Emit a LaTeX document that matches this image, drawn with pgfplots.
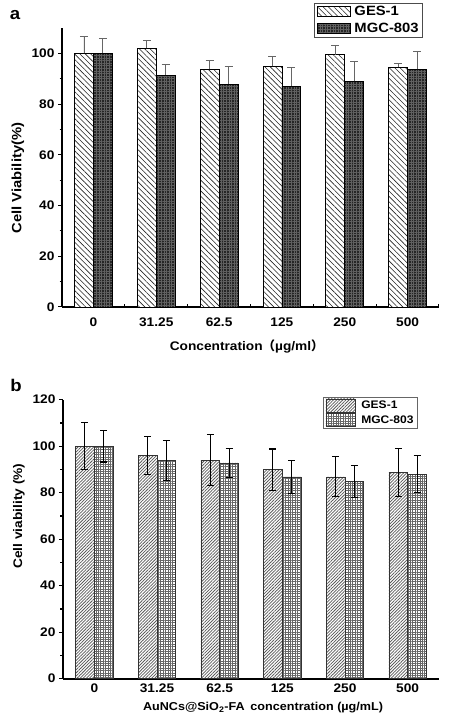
\documentclass[border=0pt]{standalone}
\usepackage{pgfplots}
\pgfplotsset{compat=1.18}
\usepackage{fontspec}
\setmainfont{Liberation Sans}[FakeStretch=1.1]
\newfontfamily\cjk{Noto Sans CJK SC}
\usetikzlibrary{patterns.meta}
\begin{document}
\begin{tikzpicture}
\useasboundingbox (0,0) rectangle (475bp,721bp);
\pgfplotsset{
  common/.style={
    scale only axis,
    axis lines=left,
    axis line style={-},
    xmin=-0.5, xmax=5.5,
    ymin=0,
    xtick={0,1,2,3,4,5},
    xticklabels={0,31.25,62.5,125,250,500},
    major x tick style={draw=none},
    minor y tick num=1,
    tick align=outside,
    major tick length=4bp,
    minor tick length=2.5bp,
    /pgf/number format/assume math mode=true,
    ybar=0pt, bar width=0.3,
    legend cell align=left,
    clip=false,
  },
}
% ---------------- panel a ----------------
\begin{axis}[common,
  at={(62bp,414bp)}, anchor=south west,
  width=377bp, height=279bp,
  ymax=110, ytick={0,20,...,100},
  axis line style={line width=1.1bp},
  tick style={line width=1bp, black},
  minor xtick={0.5,1.5,2.5,3.5,4.5,5.5},
  minor x tick style={yshift=3bp, line width=1bp},
  tick label style={font=\bfseries\fontsize{12.5}{12.5}\selectfont},
  xticklabel style={yshift=-3bp},
  xlabel={Concentration{\cjk （}µg/ml{\cjk ）}},
  xlabel style={at={(axis description cs:0.49,-0.14)}, anchor=center, font=\bfseries\fontsize{12.5}{12.5}\selectfont},
  ylabel={Cell Viability(\%)},
  ylabel style={at={(axis description cs:-0.117,0.462)}, anchor=center, font=\bfseries\fontsize{13.5}{13.5}\selectfont},
  legend style={at={(rel axis cs:0.9576,1.0896)}, anchor=north east, draw=black!70, line width=0.8bp,
    font=\bfseries\fontsize{13.5}{13.5}\selectfont, inner xsep=2bp, inner ysep=1bp, row sep=2bp},
  legend image code/.code={\draw[#1,bar shift=0pt] (0bp,-5bp) rectangle (33bp,5bp); \path (35bp,0bp);},
  error bars/error bar style={line width=0.7bp, black!60},
  error bars/error mark options={rotate=90, mark size=4bp, line width=0.7bp, black!60},
]
\addplot[draw=black, line width=0.8bp, preaction={fill=white},
  pattern={Lines[angle=-45,distance=3.8bp,line width=0.6bp]}, pattern color=black!85,
  error bars/.cd, y dir=plus, y explicit]
  table[x=x, y=y, y error=e] {
  x y e
  0 100 6.6
  1 102 3.1
  2 93.7 3.4
  3 94.9 3.8
  4 99.5 3.5
  5 94.5 1.5
};
\addlegendentry{GES-1}
\addplot[draw=black, line width=0.8bp, preaction={fill=black!85},
  pattern={Hatch[distance=2.6bp,line width=0.6bp,angle=0]}, pattern color=black!62,
  error bars/.cd, y dir=plus, y explicit]
  table[x=x, y=y, y error=e] {
  x y e
  0 100 5.9
  1 91.4 4.1
  2 87.9 7.1
  3 87.1 7.2
  4 89.0 7.8
  5 93.7 7.1
};
\addlegendentry{MGC-803}
\end{axis}
\node[font=\bfseries\fontsize{17}{17}\selectfont] at (15bp,706bp) {a};
% ---------------- panel b ----------------
\begin{axis}[common,
  at={(63bp,42.3bp)}, anchor=south west,
  width=376bp, height=279bp,
  ymax=120, ytick={0,20,...,120},
  axis line style={line width=1.6bp},
  tick style={line width=1.2bp, black},
  tick label style={font=\bfseries\fontsize{12.5}{12.5}\selectfont},
  xticklabel style={yshift=2bp},
  xlabel={AuNCs@SiO\textsubscript{2}-FA\enspace concentration (µg/mL)},
  xlabel style={at={(axis description cs:0.532,-0.105)}, anchor=center, font=\bfseries\fontsize{11.5}{11.5}\selectfont},
  ylabel={Cell viability (\%)},
  ylabel style={at={(axis description cs:-0.117,0.583)}, anchor=center, font=\bfseries\fontsize{12.5}{12.5}\selectfont},
  legend style={at={(rel axis cs:0.944,1.0108)}, anchor=north east, draw=black!60, line width=0.8bp,
    font=\bfseries\fontsize{11}{11}\selectfont, inner xsep=2bp, inner ysep=1.5bp, row sep=1bp},
  legend image code/.code={\draw[#1,bar shift=0pt] (0bp,-6.5bp) rectangle (29bp,6.5bp); \path (33bp,0bp);},
  error bars/error bar style={line width=1.1bp, black},
  error bars/error mark options={rotate=90, mark size=3.5bp, line width=1.1bp, black},
]
\addplot[draw=black!80, line width=0.7bp, preaction={fill=white},
  pattern={Lines[angle=45,distance=2.2bp,line width=0.75bp]}, pattern color=black!65,
  error bars/.cd, y dir=both, y explicit]
  table[x=x, y=y, y error=e] {
  x y e
  0 100 10.2
  1 96.0 8.2
  2 94.0 11.0
  3 89.9 8.9
  4 86.8 8.6
  5 88.7 10.5
};
\addlegendentry{GES-1}
\addplot[draw=black!80, line width=0.7bp, preaction={fill=white},
  pattern={Hatch[distance=2.4bp,line width=0.85bp,angle=0]}, pattern color=black!60,
  error bars/.cd, y dir=both, y explicit]
  table[x=x, y=y, y error=e] {
  x y e
  0 100 6.8
  1 94.0 8.6
  2 92.8 6.2
  3 86.8 7.2
  4 84.9 6.8
  5 88.0 8.1
};
\addlegendentry{MGC-803}
\end{axis}
\node[font=\bfseries\fontsize{17}{17}\selectfont] at (16bp,336bp) {b};
\end{tikzpicture}
\end{document}
